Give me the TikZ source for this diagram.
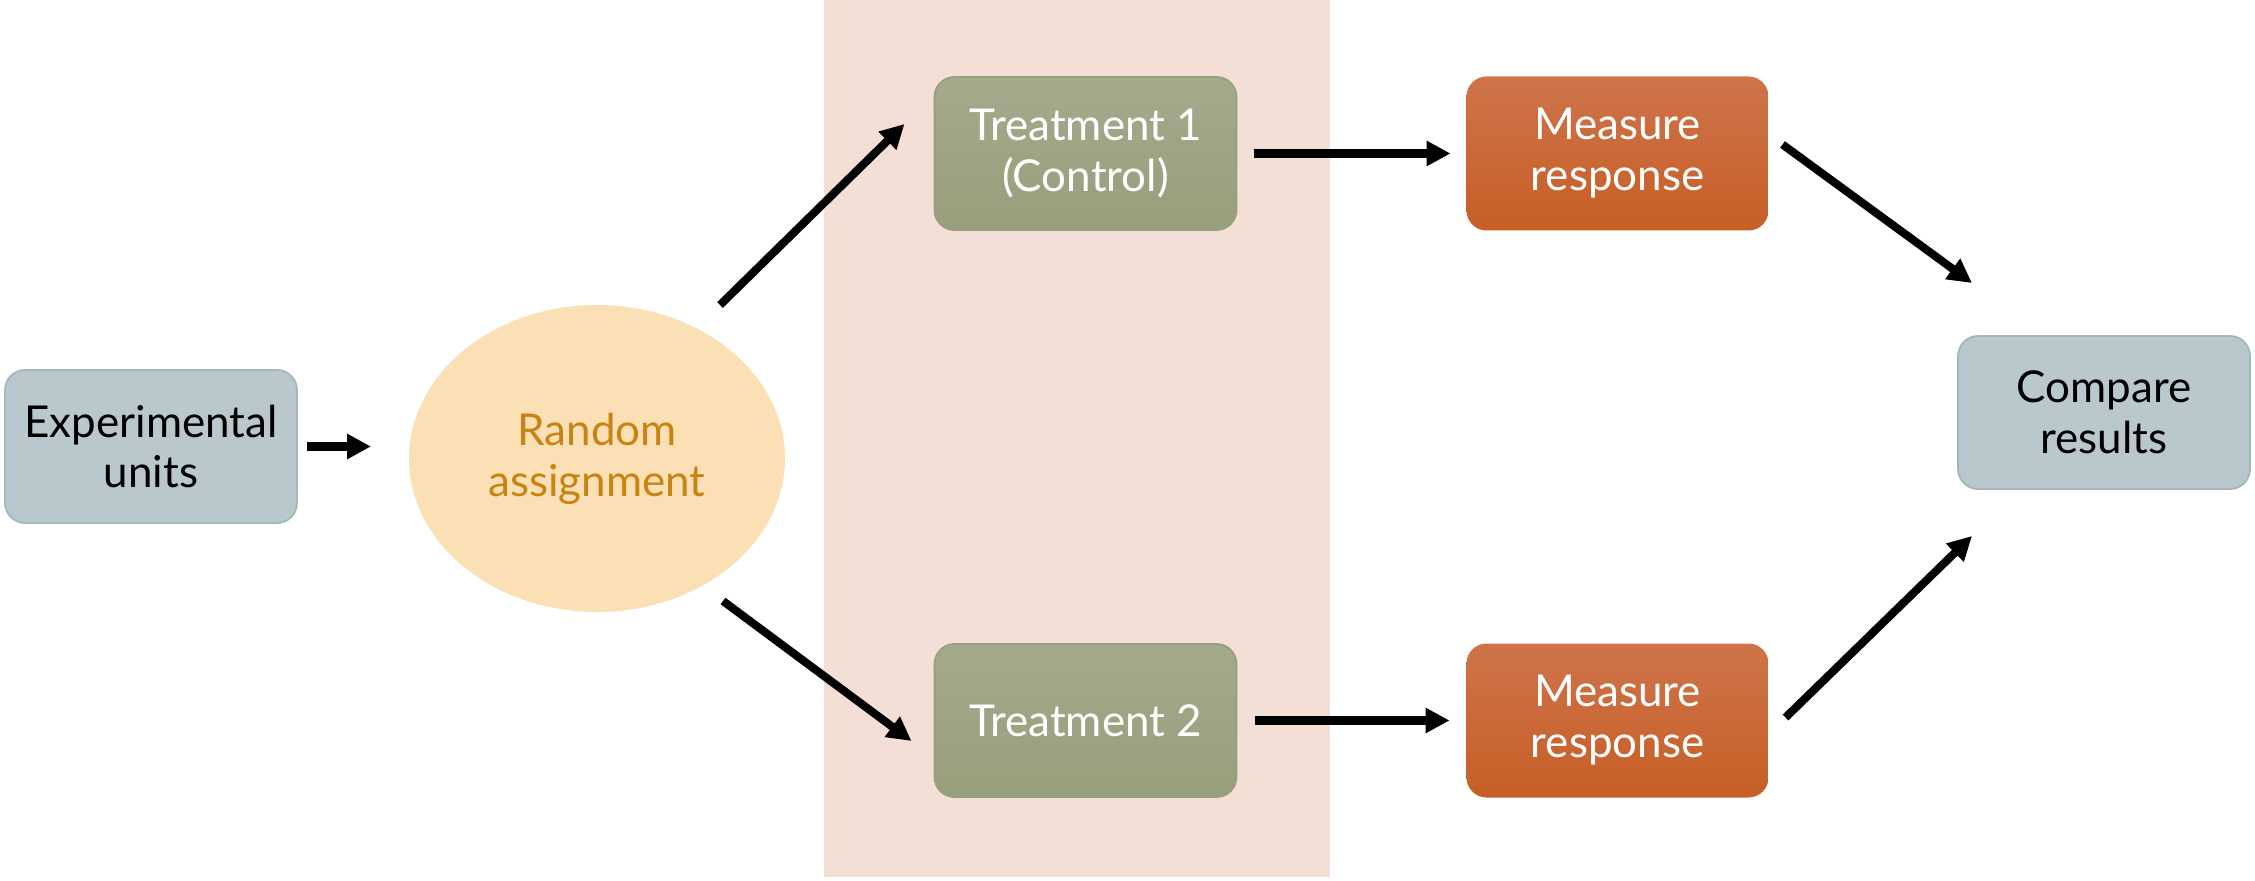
\documentclass[tikz,border=0pt]{standalone}
\usepackage{fontspec}
\setmainfont{Lato}
\usepackage{tikz}
\usetikzlibrary{arrows.meta,positioning,shapes.geometric}

\definecolor{bandpink}{RGB}{243,223,213}
\definecolor{unitgrey}{RGB}{185,200,205}
\definecolor{unitedge}{RGB}{165,182,188}
\definecolor{randfill}{RGB}{251,224,181}
\definecolor{randtext}{RGB}{201,131,17}
\definecolor{treattop}{RGB}{164,170,140}
\definecolor{treatbot}{RGB}{151,159,124}
\definecolor{meastop}{RGB}{206,116,74}
\definecolor{measbot}{RGB}{199,94,38}

\begin{document}
\begin{tikzpicture}[->,>={Triangle[length=2.4mm,width=2.4mm]},line width=2.3pt,node distance=2.3cm]
                  \tikzstyle{every node}=[font=\fontsize{12.5}{14.5}\selectfont,align=center,outer sep=0pt]
                  \tikzstyle{greybox}=[rectangle,rounded corners=2mm,fill=unitgrey,draw=unitedge,line width=0.5pt,text=black,minimum width=2.92cm,minimum height=1.53cm]
                  \tikzstyle{greenbox}=[rectangle,rounded corners=2mm,top color=treattop,bottom color=treatbot,draw=treatbot,line width=0.5pt,text=white,minimum width=3.02cm,minimum height=1.53cm]
                  \tikzstyle{orangebox}=[rectangle,rounded corners=2mm,top color=meastop,bottom color=measbot,draw=none,text=white,minimum width=3.02cm,minimum height=1.54cm]
                  \tikzstyle{blob}=[ellipse,fill=randfill,draw=none,text=randtext,minimum width=3.76cm,minimum height=3.07cm]

                  \useasboundingbox (0,0) rectangle (22.55,8.80);
                  \fill[-,bandpink] (8.24,0.03) rectangle (13.30,8.80);

                  \node[greybox]        (EU) at (1.51,4.335)              {Experimental\\units};
                  \node[blob]           (RA) [right=1.12cm of EU,yshift=-1.2mm] {Random\\assignment};
                  \node[greenbox]       (T1) at (10.855,7.265)            {Treatment 1\\(Control)};
                  \node[greenbox]       (T2) [below=4.14cm of T1]         {Treatment 2};
                  \node[orangebox]      (M1) [right=of T1]                {Measure\\response};
                  \node[orangebox]      (M2) [right=of T2]                {Measure\\response};
                  \node[greybox]        (CR) at (21.04,4.675)             {Compare\\results};

                  \coordinate (r1) at ([shift={(1.23,1.535)}]RA.center);
                  \coordinate (t1) at ([shift={(-0.30,0.295)}]T1.west);
                  \coordinate (r2) at ([shift={(1.26,-1.425)}]RA.center);
                  \coordinate (t2) at ([shift={(-0.23,-0.205)}]T2.west);
                  \coordinate (m1) at ([shift={(0.14,0.09)}]M1.east);
                  \coordinate (c1) at ([shift={(0.14,0.53)}]CR.north west);
                  \coordinate (m2) at ([shift={(0.17,0.03)}]M2.east);
                  \coordinate (c2) at ([shift={(0.14,-0.47)}]CR.south west);

                  \path (EU.east) edge[shorten <=1mm,shorten >=3.8mm] (EU.east -| RA.west)
                        (r1) edge                                  (t1)
                        (r2) edge                                  (t2)
                        (T1) edge[shorten <=1.7mm,shorten >=1.6mm] (M1)
                        (T2) edge[shorten <=1.8mm,shorten >=1.7mm] (M2)
                        (m1) edge                                  (c1)
                        (m2) edge                                  (c2);
                \end{tikzpicture}
\end{document}
